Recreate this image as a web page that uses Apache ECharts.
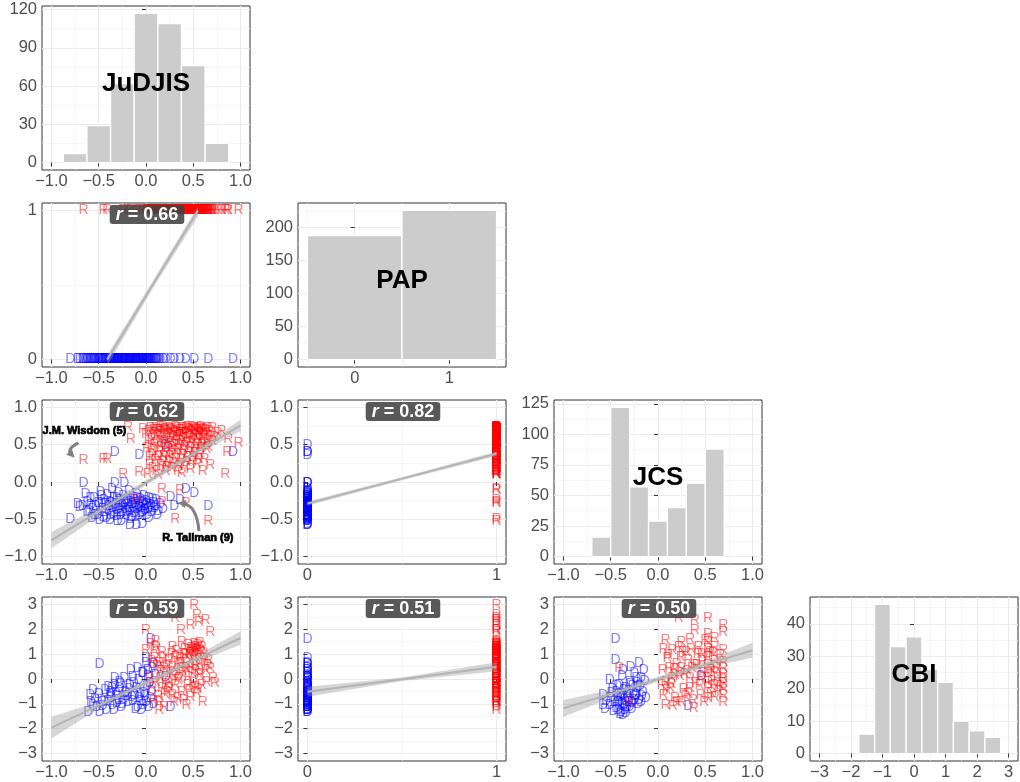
<!DOCTYPE html>
<html>
<head>
<meta charset="utf-8">
<script src="https://cdn.jsdelivr.net/npm/echarts@6/dist/echarts.min.js"></script>
<style>
  html, body { margin: 0; padding: 0; background: #ffffff; }
  #chart { width: 1020px; height: 782px; }
</style>
</head>
<body>
<div id="chart"></div>
<script>
// ---------- histogram bins (centre, count, width) ----------
const judjisHistX = [-0.75, -0.5, -0.25, 0, 0.25, 0.5, 0.75];
const judjisHistN = [7, 29, 62, 117, 109, 76, 15];
const judjisBinW = 0.25;
const papHistX = [0, 1];
const papHistN = [188, 226];
const papBinW = 1;
const jcsHistX = [-0.6, -0.4, -0.2, 0, 0.2, 0.4, 0.6];
const jcsHistN = [16, 122, 57, 29, 40, 60, 88];
const jcsBinW = 0.2;
const cbiHistX = [-1.5, -1, -0.5, 0, 0.5, 1, 1.5, 2, 2.5];
const cbiHistN = [6, 46, 33, 36, 26, 22, 10, 7, 5];
const cbiBinW = 0.5;

// ---------- legislators: [JuDJIS, JCS] by party ----------
const judjisJcsD = [[-0.80,-0.50],[-0.72,-0.30],[-0.70,-0.34],[-0.67,-0.33],[-0.66,-0.02],[-0.64,-0.16],[-0.62,-0.27],[-0.62,-0.40],[-0.60,-0.39],[-0.59,-0.21],[-0.58,-0.31],[-0.57,-0.49],[-0.56,-0.36],[-0.55,-0.22],[-0.54,-0.44],[-0.53,-0.33],[-0.51,-0.45],[-0.50,-0.28],[-0.49,-0.51],[-0.48,-0.13],[-0.47,-0.28],[-0.47,-0.19],[-0.46,-0.37],[-0.45,-0.47],[-0.44,-0.24],[-0.43,-0.41],[-0.43,-0.30],[-0.42,-0.49],[-0.41,-0.18],[-0.40,-0.32],[-0.39,-0.38],[-0.38,-0.27],[-0.38,-0.51],[-0.37,-0.44],[-0.36,-0.10],[-0.36,-0.28],[-0.35,-0.35],[-0.34,-0.21],[-0.34,-0.43],[-0.33,-0.01],[-0.33,0.40],[-0.32,-0.30],[-0.31,-0.46],[-0.31,-0.22],[-0.30,-0.38],[-0.30,-0.53],[-0.29,-0.15],[-0.29,-0.36],[-0.28,-0.25],[-0.27,-0.33],[-0.27,-0.44],[-0.26,-0.52],[-0.25,-0.40],[-0.25,-0.31],[-0.24,-0.19],[-0.23,-0.02],[-0.23,-0.29],[-0.22,-0.36],[-0.22,-0.27],[-0.21,-0.45],[-0.20,-0.24],[-0.20,-0.41],[-0.19,-0.31],[-0.18,-0.12],[-0.18,-0.35],[-0.17,-0.58],[-0.17,-0.39],[-0.16,-0.27],[-0.16,-0.50],[-0.15,-0.47],[-0.14,-0.20],[-0.14,-0.30],[-0.13,-0.34],[-0.12,-0.42],[-0.12,-0.25],[-0.11,-0.28],[-0.11,-0.47],[-0.10,-0.58],[-0.10,-0.16],[-0.09,-0.37],[-0.09,-0.22],[-0.08,-0.31],[-0.07,0.36],[-0.07,-0.45],[-0.07,-0.34],[-0.06,-0.23],[-0.05,-0.35],[-0.05,-0.42],[-0.04,-0.56],[-0.04,-0.29],[-0.03,-0.40],[-0.03,-0.27],[-0.02,-0.19],[-0.01,-0.33],[-0.01,-0.38],[0.00,-0.26],[0.01,-0.44],[0.01,-0.30],[0.02,-0.37],[0.03,-0.22],[0.03,-0.48],[0.04,-0.35],[0.05,-0.31],[0.06,-0.41],[0.07,-0.23],[0.08,-0.28],[0.09,-0.35],[0.10,-0.33],[0.11,-0.24],[0.12,-0.45],[0.13,-0.39],[0.15,-0.30],[0.18,-0.36],[0.21,0.49],[0.26,-0.20],[0.30,-0.32],[0.36,-0.24],[0.42,-0.09],[0.51,-0.15],[0.66,-0.33],[0.92,0.40]];
const judjisJcsR = [[-0.66,0.29],[-0.45,0.30],[-0.41,0.30],[-0.24,0.11],[-0.19,0.73],[-0.16,0.58],[-0.10,-0.24],[-0.07,0.13],[-0.03,0.71],[0.00,0.64],[0.01,0.45],[0.02,0.10],[0.03,0.55],[0.03,0.68],[0.04,0.33],[0.04,0.22],[0.05,0.72],[0.06,0.44],[0.06,0.58],[0.07,0.19],[0.07,0.36],[0.08,0.70],[0.09,0.66],[0.09,0.49],[0.10,0.29],[0.10,0.72],[0.11,0.52],[0.11,0.15],[0.12,0.70],[0.12,0.62],[0.13,0.09],[0.13,0.33],[0.14,0.41],[0.14,0.69],[0.15,0.61],[0.15,0.73],[0.16,0.23],[0.16,0.47],[0.17,-0.09],[0.17,-0.27],[0.17,0.60],[0.18,0.73],[0.18,0.27],[0.19,0.35],[0.19,0.69],[0.19,0.52],[0.20,0.55],[0.20,0.71],[0.21,0.14],[0.21,0.40],[0.22,0.68],[0.22,0.20],[0.23,0.46],[0.23,0.64],[0.24,0.27],[0.24,0.54],[0.25,0.72],[0.25,0.35],[0.26,0.58],[0.26,0.70],[0.27,0.18],[0.27,0.71],[0.27,0.47],[0.28,0.38],[0.28,0.60],[0.29,0.65],[0.29,0.25],[0.30,0.50],[0.30,0.68],[0.31,0.73],[0.31,-0.50],[0.31,0.42],[0.32,0.31],[0.32,0.56],[0.33,0.62],[0.33,0.72],[0.34,0.44],[0.34,0.15],[0.35,0.21],[0.35,0.66],[0.35,0.50],[0.36,-0.11],[0.36,0.70],[0.36,0.63],[0.37,0.55],[0.37,0.30],[0.38,0.12],[0.38,0.70],[0.39,0.36],[0.39,0.72],[0.39,0.58],[0.40,0.66],[0.40,0.43],[0.41,0.48],[0.41,0.21],[0.42,-0.29],[0.42,0.72],[0.42,0.65],[0.43,0.26],[0.43,0.52],[0.44,0.59],[0.44,0.73],[0.44,0.34],[0.45,0.40],[0.45,0.71],[0.46,0.69],[0.46,0.60],[0.47,0.17],[0.47,0.45],[0.48,0.53],[0.48,0.68],[0.49,0.73],[0.49,0.28],[0.50,0.33],[0.50,0.58],[0.51,0.63],[0.51,0.72],[0.52,0.45],[0.52,0.69],[0.52,0.39],[0.53,0.71],[0.53,0.62],[0.54,0.24],[0.54,0.50],[0.55,0.57],[0.55,0.70],[0.56,0.67],[0.56,0.31],[0.57,0.38],[0.57,0.72],[0.57,0.64],[0.58,0.73],[0.58,0.46],[0.59,0.50],[0.59,0.69],[0.60,0.14],[0.60,0.58],[0.61,0.62],[0.61,0.71],[0.62,0.30],[0.62,0.52],[0.63,0.70],[0.63,0.64],[0.64,0.44],[0.65,0.56],[0.65,0.72],[0.66,-0.53],[0.66,0.47],[0.67,0.68],[0.68,0.22],[0.68,0.62],[0.70,0.72],[0.70,0.55],[0.72,0.60],[0.76,0.66],[0.80,0.68],[0.84,0.11],[0.86,0.40],[0.87,0.58],[0.98,0.52]];

// ---------- legislators: [JuDJIS, CBI] by party ----------
const judjisCbiD = [[-0.61,-1.32],[-0.59,-0.65],[-0.58,-0.95],[-0.56,-0.45],[-0.56,-1.05],[-0.54,-0.80],[-0.52,-1.12],[-0.50,-0.60],[-0.49,0.58],[-0.49,-1.32],[-0.47,-0.85],[-0.46,-1.10],[-0.44,-0.92],[-0.43,-0.45],[-0.42,-1.25],[-0.40,-0.31],[-0.40,-0.88],[-0.38,-0.60],[-0.37,-0.78],[-0.37,-0.52],[-0.36,-0.35],[-0.35,-1.05],[-0.34,-1.25],[-0.33,0.02],[-0.33,-0.25],[-0.32,-0.58],[-0.31,-0.98],[-0.30,-0.70],[-0.29,-0.85],[-0.28,-0.38],[-0.28,-0.11],[-0.27,-0.20],[-0.26,-1.15],[-0.25,-1.02],[-0.24,-0.85],[-0.23,0.02],[-0.22,-0.55],[-0.21,-0.52],[-0.20,-0.70],[-0.19,-0.95],[-0.18,-0.42],[-0.17,-0.25],[-0.16,0.35],[-0.15,-0.72],[-0.14,0.09],[-0.14,-0.90],[-0.13,-0.15],[-0.12,-0.65],[-0.11,-1.20],[-0.10,-0.38],[-0.09,0.42],[-0.09,-1.12],[-0.08,-0.05],[-0.07,-0.78],[-0.06,-0.60],[-0.05,-0.90],[-0.05,-1.25],[-0.04,0.25],[-0.03,0.22],[-0.03,-1.05],[-0.02,-0.55],[-0.01,-0.70],[0.00,0.82],[0.00,0.62],[0.00,-0.92],[0.01,-0.30],[0.02,0.35],[0.02,0.10],[0.03,-1.12],[0.04,-0.15],[0.05,1.60],[0.05,-0.78],[0.06,-0.50],[0.07,0.45],[0.08,-1.00],[0.08,0.60],[0.10,0.15],[0.21,0.09],[0.26,-1.12]];
const judjisCbiR = [[0.00,1.96],[0.00,1.16],[0.04,0.02],[0.05,1.40],[0.06,0.70],[0.07,-0.38],[0.08,-0.90],[0.09,0.82],[0.09,1.16],[0.10,1.52],[0.10,-0.11],[0.11,1.30],[0.12,0.50],[0.13,-0.70],[0.14,0.62],[0.14,-0.92],[0.14,-1.25],[0.15,0.05],[0.16,0.30],[0.17,1.09],[0.17,-0.38],[0.18,0.85],[0.19,0.42],[0.19,-1.12],[0.20,-0.60],[0.21,-0.20],[0.22,0.50],[0.23,-0.52],[0.24,0.75],[0.24,-0.11],[0.25,-0.35],[0.26,0.22],[0.27,1.00],[0.28,1.29],[0.28,0.49],[0.28,-0.65],[0.29,0.15],[0.30,-0.95],[0.31,2.45],[0.31,0.89],[0.31,-0.25],[0.32,1.12],[0.33,-0.78],[0.34,0.60],[0.34,-0.05],[0.35,0.02],[0.36,0.85],[0.37,1.96],[0.37,0.62],[0.37,0.22],[0.38,1.49],[0.38,-0.52],[0.39,0.30],[0.40,-0.85],[0.40,1.00],[0.41,1.20],[0.42,0.42],[0.42,0.96],[0.43,-1.05],[0.43,0.65],[0.44,-0.25],[0.45,1.36],[0.45,0.09],[0.46,-0.45],[0.46,0.95],[0.47,2.16],[0.47,0.49],[0.47,-0.72],[0.47,1.05],[0.48,1.25],[0.49,1.16],[0.49,0.25],[0.50,1.10],[0.50,-0.15],[0.51,2.96],[0.51,1.42],[0.51,0.90],[0.52,0.35],[0.52,0.75],[0.52,-0.31],[0.52,1.30],[0.53,1.18],[0.53,0.55],[0.54,2.56],[0.54,1.22],[0.54,-0.58],[0.55,1.35],[0.55,-0.40],[0.56,2.29],[0.56,1.02],[0.56,0.15],[0.57,0.60],[0.57,1.45],[0.58,1.12],[0.58,0.20],[0.59,1.29],[0.59,-0.25],[0.60,-0.95],[0.61,1.05],[0.62,0.80],[0.63,2.36],[0.63,0.35],[0.64,-0.11],[0.65,0.55],[0.66,0.75],[0.68,1.89],[0.68,0.42],[0.71,0.02],[0.73,-0.18]];

// ---------- legislators: [JCS, CBI] by party ----------
const jcsCbiD = [[-0.58,-1.05],[-0.58,-0.65],[-0.56,-1.20],[-0.55,-0.90],[-0.51,-0.05],[-0.51,-1.05],[-0.50,-0.78],[-0.49,-0.55],[-0.48,-0.40],[-0.47,-1.30],[-0.46,-0.95],[-0.45,1.60],[-0.45,0.76],[-0.44,-0.52],[-0.44,-1.18],[-0.43,-0.72],[-0.43,-0.30],[-0.42,-0.95],[-0.42,-1.25],[-0.41,-0.25],[-0.41,-0.92],[-0.40,-1.40],[-0.40,-0.75],[-0.39,-1.32],[-0.39,-0.60],[-0.38,0.10],[-0.38,-1.02],[-0.37,0.35],[-0.37,-0.65],[-0.37,-1.45],[-0.36,-1.05],[-0.36,-0.45],[-0.35,-0.85],[-0.35,-1.25],[-0.34,-0.38],[-0.34,-1.38],[-0.33,-1.15],[-0.33,-0.60],[-0.32,-0.78],[-0.31,-0.50],[-0.31,-0.95],[-0.30,-0.11],[-0.30,-1.12],[-0.29,0.49],[-0.29,-0.20],[-0.28,-0.92],[-0.28,-1.20],[-0.27,-0.98],[-0.27,-0.30],[-0.26,-0.55],[-0.25,0.22],[-0.25,-0.85],[-0.24,-0.70],[-0.23,-0.65],[-0.23,0.05],[-0.22,-0.18],[-0.22,-0.38],[-0.21,-1.00],[-0.20,0.62],[-0.20,-0.85],[-0.19,-0.30],[-0.18,0.02],[-0.18,-0.92],[-0.17,-0.70],[-0.16,-0.52],[-0.15,0.35],[-0.14,-0.10],[-0.13,-0.78],[0.32,-1.08],[0.46,0.13]];
const jcsCbiR = [[-0.41,0.42],[-0.30,-0.92],[0.04,-0.25],[0.05,0.35],[0.06,1.22],[0.06,-0.65],[0.08,1.56],[0.08,-0.11],[0.08,-1.05],[0.09,-0.45],[0.10,0.85],[0.11,0.95],[0.12,0.42],[0.13,-0.38],[0.14,-0.20],[0.15,1.16],[0.15,0.05],[0.16,-1.10],[0.17,0.40],[0.18,0.15],[0.18,-0.78],[0.20,0.60],[0.20,-0.95],[0.22,2.43],[0.22,1.30],[0.23,0.10],[0.24,0.89],[0.25,1.49],[0.25,0.42],[0.25,-0.92],[0.26,1.10],[0.27,-0.40],[0.28,0.20],[0.29,-0.70],[0.30,1.10],[0.31,0.30],[0.32,0.75],[0.32,-0.60],[0.34,1.62],[0.34,0.02],[0.34,-0.38],[0.35,1.20],[0.36,0.45],[0.37,-0.85],[0.38,-1.18],[0.39,2.36],[0.39,1.96],[0.39,0.55],[0.40,-0.15],[0.41,0.55],[0.42,1.00],[0.43,1.29],[0.44,-0.25],[0.45,0.09],[0.45,-0.65],[0.46,1.00],[0.47,0.70],[0.48,0.25],[0.49,-0.95],[0.50,1.55],[0.53,2.43],[0.53,1.82],[0.53,1.49],[0.53,1.20],[0.53,0.89],[0.53,0.55],[0.53,0.22],[0.53,-0.11],[0.53,-0.38],[0.53,-0.78],[0.55,1.10],[0.56,0.35],[0.56,-0.55],[0.57,-0.10],[0.58,1.05],[0.60,1.29],[0.60,0.70],[0.60,0.29],[0.60,-0.25],[0.60,-0.72],[0.60,1.65],[0.62,0.45],[0.63,0.05],[0.64,-0.50],[0.66,0.95],[0.66,-0.30],[0.69,2.16],[0.69,1.89],[0.69,1.16],[0.69,0.69],[0.69,0.42],[0.69,0.02],[0.69,-0.38],[0.69,-0.92],[0.69,0.20],[0.69,-0.15],[0.69,-0.65]];

// ---------- linear fits: [x, lower, fit, upper] ----------
const fitJudjisPap = [[-0.41,-0.04,0.00,0.03],[0.07,0.475,0.50,0.525],[0.55,0.96,1.00,1.03]];
const fitJudjisJcs = [[-1,-0.89,-0.78,-0.67],[-0.5,-0.455,-0.395,-0.335],[0,-0.045,-0.01,0.025],[0.5,0.335,0.375,0.415],[1,0.685,0.76,0.835]];
const fitPapJcs = [[0,-0.32,-0.29,-0.26],[0.5,0.025,0.045,0.065],[1,0.35,0.38,0.41]];
const fitJudjisCbi = [[-1,-2.39,-1.96,-1.52],[-0.5,-1.2,-1.06,-0.92],[0,-0.26,-0.155,-0.05],[0.5,0.62,0.75,0.88],[1,1.38,1.65,1.92]];
const fitPapCbi = [[0,-0.71,-0.51,-0.31],[0.5,-0.08,-0.01,0.06],[1,0.31,0.49,0.67]];
const fitJcsCbi = [[-1,-1.52,-1.18,-0.85],[-0.5,-0.77,-0.6,-0.43],[0,-0.11,-0.01,0.09],[0.5,0.45,0.58,0.71],[1,0.86,1.16,1.46]];

// ---------- correlation labels ----------
const corrJudjisPap = '0.66', corrJudjisJcs = '0.62', corrPapJcs = '0.82';
const corrJudjisCbi = '0.59', corrPapCbi = '0.51', corrJcsCbi = '0.50';

// ---------- labelled legislators (JuDJIS vs JCS panel) ----------
const callouts = [
  { label: 'J.M. Wisdom (5)', text: [-0.652, 0.68], from: [-0.714, 0.524], ctrl: [-0.843, 0.444], to: [-0.77, 0.344] },
  { label: 'R. Tallman (9)', text: [0.548, -0.747], from: [0.56, -0.659], ctrl: [0.539, -0.316], to: [0.358, -0.283] }
];

// ---------- tick values ----------
const unitTicks = [-1, -0.5, 0, 0.5, 1], unitMinor = [-0.75, -0.25, 0.25, 0.75];
const cbiTicks = [-3, -2, -1, 0, 1, 2, 3], cbiMinor = [-2.5, -1.5, -0.5, 0.5, 1.5, 2.5];
const papTicks = [0, 1], papMinor = [0.5], papHistMinor = [-0.5, 0.5, 1.5];
const judjisCountTicks = [0, 30, 60, 90, 120], judjisCountMinor = [15, 45, 75, 105];
const papCountTicks = [0, 50, 100, 150, 200], papCountMinor = [25, 75, 125, 175, 225];
const jcsCountTicks = [0, 25, 50, 75, 100, 125], jcsCountMinor = [12.5, 37.5, 62.5, 87.5, 112.5];
const cbiCountTicks = [0, 10, 20, 30, 40], cbiCountMinor = [5, 15, 25, 35, 45];

// ---------- layout & style ----------
const FONT = '"Liberation Sans", Arial, Helvetica, sans-serif';
const PANEL_W = 208, PANEL_H = 164;
const COL_LEFT = [42, 298, 554, 810];
const ROW_TOP = [6, 203, 400, 597];
const BLUE = '#0000FF', RED = '#FF0000';

function range(lo, hi, major, minor, digits) { return { min: lo, max: hi, major, minor, digits }; }
function countRange(counts, major, minor) {
  const m = Math.max.apply(null, counts);
  return range(-0.05 * m, 1.05 * m, major, minor, 0);
}
const sJudjis = range(-1.1, 1.1, unitTicks, unitMinor, 1);
const sJcs = range(-1.1, 1.1, unitTicks, unitMinor, 1);
const sCbi = range(-3.3, 3.3, cbiTicks, cbiMinor, 0);
const sPap = range(-0.05, 1.05, papTicks, papMinor, 0);
const sPapHist = range(-0.6, 1.6, papTicks, papHistMinor, 0);

const panels = [
  { row: 0, col: 0, xs: sJudjis, ys: countRange(judjisHistN, judjisCountTicks, judjisCountMinor),
    hist: [judjisHistX, judjisHistN, judjisBinW], name: 'JuDJIS' },
  { row: 1, col: 0, xs: sJudjis, ys: sPap,
    D: judjisJcsD.map(p => [p[0], 0]), R: judjisJcsR.map(p => [p[0], 1]), fit: fitJudjisPap, corr: corrJudjisPap },
  { row: 1, col: 1, xs: sPapHist, ys: countRange(papHistN, papCountTicks, papCountMinor),
    hist: [papHistX, papHistN, papBinW], name: 'PAP' },
  { row: 2, col: 0, xs: sJudjis, ys: sJcs, D: judjisJcsD, R: judjisJcsR, fit: fitJudjisJcs, corr: corrJudjisJcs, notes: callouts },
  { row: 2, col: 1, xs: sPap, ys: sJcs,
    D: judjisJcsD.map(p => [0, p[1]]), R: judjisJcsR.map(p => [1, p[1]]), fit: fitPapJcs, corr: corrPapJcs },
  { row: 2, col: 2, xs: sJcs, ys: countRange(jcsHistN, jcsCountTicks, jcsCountMinor),
    hist: [jcsHistX, jcsHistN, jcsBinW], name: 'JCS' },
  { row: 3, col: 0, xs: sJudjis, ys: sCbi, D: judjisCbiD, R: judjisCbiR, fit: fitJudjisCbi, corr: corrJudjisCbi },
  { row: 3, col: 1, xs: sPap, ys: sCbi,
    D: judjisCbiD.map(p => [0, p[1]]), R: judjisCbiR.map(p => [1, p[1]]), fit: fitPapCbi, corr: corrPapCbi },
  { row: 3, col: 2, xs: sJcs, ys: sCbi, D: jcsCbiD, R: jcsCbiR, fit: fitJcsCbi, corr: corrJcsCbi },
  { row: 3, col: 3, xs: sCbi, ys: countRange(cbiHistN, cbiCountTicks, cbiCountMinor),
    hist: [cbiHistX, cbiHistN, cbiBinW], name: 'CBI' }
];

function fmt(digits) {
  return function (v) {
    const s = Math.abs(v).toFixed(digits);
    return (v < -1e-9 ? '\u2212' : '') + s;
  };
}

function mainAxis(dim, gi, s) {
  return {
    type: 'value', gridIndex: gi, min: s.min, max: s.max,
    position: dim === 'x' ? 'bottom' : 'left',
    axisLine: { show: false },
    axisTick: { show: true, length: 4, customValues: s.major, lineStyle: { color: '#333333', width: 1 } },
    axisLabel: {
      show: true, customValues: s.major, formatter: fmt(s.digits),
      color: '#4D4D4D', fontSize: 16.5, fontFamily: FONT, margin: dim === 'x' ? 3 : 5
    },
    splitLine: { show: true, lineStyle: { color: '#EBEBEB', width: 1.2 } },
    splitArea: { show: false }
  };
}
function minorAxis(dim, gi, s) {
  return {
    type: 'value', gridIndex: gi, min: s.min, max: s.max,
    position: dim === 'x' ? 'top' : 'right',
    axisLine: { show: false },
    axisTick: { show: false, customValues: s.minor },
    axisLabel: { show: false },
    splitLine: { show: true, lineStyle: { color: '#F2F2F2', width: 0.7 } },
    splitArea: { show: false }
  };
}

function histSeries(ai, h) {
  const xs = h[0], ns = h[1], w = h[2];
  return {
    type: 'custom', xAxisIndex: ai, yAxisIndex: ai, silent: true, clip: true, z: 2,
    data: xs.map((x, i) => [x, ns[i]]),
    renderItem: function (params, api) {
      const x = api.value(0), n = api.value(1);
      const a = api.coord([x - w / 2, 0]);
      const b = api.coord([x + w / 2, n]);
      return {
        type: 'rect',
        shape: { x: a[0], y: b[1], width: b[0] - a[0], height: a[1] - b[1] },
        style: { fill: '#CCCCCC', stroke: '#FFFFFF', lineWidth: 1.3 }
      };
    }
  };
}

function letterSeries(ai, data, letter, color) {
  return {
    type: 'custom', xAxisIndex: ai, yAxisIndex: ai, silent: true, clip: true, z: 2,
    data: data,
    renderItem: function (params, api) {
      const p = api.coord([api.value(0), api.value(1)]);
      return {
        type: 'text', x: p[0], y: p[1],
        style: {
          text: letter, fill: color, opacity: 0.5,
          fontSize: 14, fontFamily: FONT, align: 'center', verticalAlign: 'middle'
        }
      };
    }
  };
}

function fitSeries(ai, band) {
  return {
    type: 'custom', xAxisIndex: ai, yAxisIndex: ai, silent: true, clip: true, z: 3,
    data: [[band[0][0], band[0][2]]],
    renderItem: function (params, api) {
      const upper = band.map(b => api.coord([b[0], b[3]]));
      const lower = band.map(b => api.coord([b[0], b[1]])).reverse();
      const mid = band.map(b => api.coord([b[0], b[2]]));
      return {
        type: 'group',
        children: [
          { type: 'polygon', shape: { points: upper.concat(lower) }, style: { fill: 'rgba(153,153,153,0.4)' } },
          { type: 'polyline', shape: { points: mid }, style: { stroke: '#B4B4B4', lineWidth: 2, fill: null } }
        ]
      };
    }
  };
}

function calloutSeries(ai, notes) {
  return {
    type: 'custom', xAxisIndex: ai, yAxisIndex: ai, silent: true, clip: false, z: 4,
    data: notes.map((n, i) => [n.text[0], n.text[1], i]),
    renderItem: function (params, api) {
      const n = notes[api.value(2)];
      const t = api.coord(n.text), f = api.coord(n.from), c = api.coord(n.ctrl), e = api.coord(n.to);
      let dx = e[0] - c[0], dy = e[1] - c[1];
      const len = Math.sqrt(dx * dx + dy * dy) || 1;
      dx /= len; dy /= len;
      const px = -dy, py = dx;
      const tip = [e[0] + dx * 2, e[1] + dy * 2];
      const head = [
        tip,
        [e[0] - dx * 6 + px * 4, e[1] - dy * 6 + py * 4],
        [e[0] - dx * 6 - px * 4, e[1] - dy * 6 - py * 4]
      ];
      return {
        type: 'group',
        children: [
          { type: 'bezierCurve', shape: { x1: f[0], y1: f[1], x2: e[0] - dx * 3, y2: e[1] - dy * 3, cpx1: c[0], cpy1: c[1] },
            style: { stroke: '#808080', lineWidth: 3, fill: null } },
          { type: 'polygon', shape: { points: head }, style: { fill: '#808080' } },
          { type: 'text', x: t[0], y: t[1],
            style: { text: n.label, fontSize: 11, fontWeight: 'bold', fontFamily: FONT, fill: '#000000',
                     stroke: '#000000', lineWidth: 0.7, align: 'center', verticalAlign: 'middle' } }
        ]
      };
    }
  };
}

const grid = [], xAxis = [], yAxis = [], series = [], graphics = [];
panels.forEach(function (p, gi) {
  const left = COL_LEFT[p.col], top = ROW_TOP[p.row];
  grid.push({ left: left, top: top, width: PANEL_W, height: PANEL_H, show: true,
              backgroundColor: '#FFFFFF', borderColor: '#333333', borderWidth: 1, containLabel: false });
  xAxis.push(mainAxis('x', gi, p.xs), minorAxis('x', gi, p.xs));
  yAxis.push(mainAxis('y', gi, p.ys), minorAxis('y', gi, p.ys));
  const ai = 2 * gi;
  const cx = left + PANEL_W / 2, cy = top + PANEL_H / 2;
  if (p.hist) {
    series.push(histSeries(ai, p.hist));
    graphics.push({
      type: 'text', x: cx, y: cy - 4, z: 100, silent: true,
      style: { text: p.name, fontSize: 26, fontWeight: 'bold', fontFamily: FONT, fill: '#000000',
               align: 'center', verticalAlign: 'middle' }
    });
  } else {
    series.push(letterSeries(ai, p.D, 'D', BLUE));
    series.push(letterSeries(ai, p.R, 'R', RED));
    series.push(fitSeries(ai, p.fit));
    if (p.notes) series.push(calloutSeries(ai, p.notes));
    graphics.push({
      type: 'text', x: cx + 1, y: top + 2, z: 100, silent: true,
      style: {
        text: '{i|r} = ' + p.corr,
        fontSize: 18, fontWeight: 'bold', fontFamily: FONT, fill: '#FFFFFF',
        rich: { i: { fontSize: 18, fontWeight: 'bold', fontStyle: 'italic', fontFamily: FONT, fill: '#FFFFFF' } },
        align: 'center', verticalAlign: 'top',
        backgroundColor: 'rgba(66,66,66,0.88)', padding: [1, 6, 0, 6], borderRadius: 3
      }
    });
  }
});

const chart = echarts.init(document.getElementById('chart'), null, { renderer: 'canvas' });
chart.setOption({
  animation: false,
  backgroundColor: '#FFFFFF',
  grid: grid,
  xAxis: xAxis,
  yAxis: yAxis,
  series: series,
  graphic: { elements: graphics }
});
</script>
</body>
</html>
